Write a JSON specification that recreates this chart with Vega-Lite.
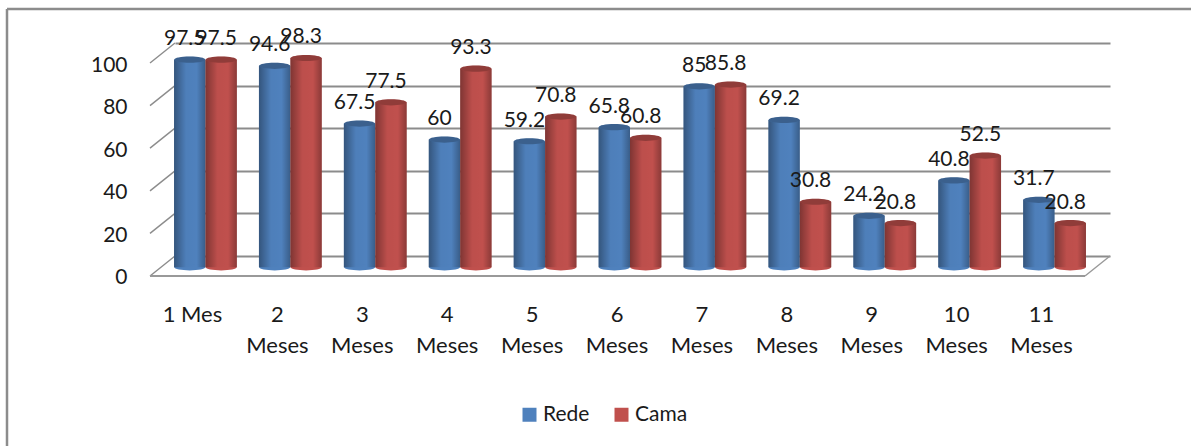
{
"$schema":"https://vega.github.io/schema/vega-lite/v6.json",
"width":935,"height":256,
"autosize":"none",
"padding":{"left":175,"top":20,"right":81,"bottom":170},
"background":"#ffffff",
"config":{"view":{"stroke":null},"font":"Lato"},
"datasets":{
"ticks":[{"tick":0},{"tick":20},{"tick":40},{"tick":60},{"tick":80},{"tick":100}],
"bars":[
{"periodo":"1 Mes","serie":"Rede","valor":97.5},{"periodo":"1 Mes","serie":"Cama","valor":97.5},
{"periodo":"2 Meses","serie":"Rede","valor":94.6},{"periodo":"2 Meses","serie":"Cama","valor":98.3},
{"periodo":"3 Meses","serie":"Rede","valor":67.5},{"periodo":"3 Meses","serie":"Cama","valor":77.5},
{"periodo":"4 Meses","serie":"Rede","valor":60},{"periodo":"4 Meses","serie":"Cama","valor":93.3},
{"periodo":"5 Meses","serie":"Rede","valor":59.2},{"periodo":"5 Meses","serie":"Cama","valor":70.8},
{"periodo":"6 Meses","serie":"Rede","valor":65.8},{"periodo":"6 Meses","serie":"Cama","valor":60.8},
{"periodo":"7 Meses","serie":"Rede","valor":85},{"periodo":"7 Meses","serie":"Cama","valor":85.8},
{"periodo":"8 Meses","serie":"Rede","valor":69.2},{"periodo":"8 Meses","serie":"Cama","valor":30.8},
{"periodo":"9 Meses","serie":"Rede","valor":24.2},{"periodo":"9 Meses","serie":"Cama","valor":20.8},
{"periodo":"10 Meses","serie":"Rede","valor":40.8},{"periodo":"10 Meses","serie":"Cama","valor":52.5},
{"periodo":"11 Meses","serie":"Rede","valor":31.7},{"periodo":"11 Meses","serie":"Cama","valor":20.8}
]},
"layer":[
{"layer":[
 {"data":{"name":"ticks"},
  "transform":[{"calculate":"datum.tick-9.39","as":"front"},{"calculate":"-1","as":"d0"},{"calculate":"0","as":"d1"}],
  "mark":{"type":"rule","color":"#8c8c8c","strokeWidth":1.5},
  "encoding":{
   "x":{"field":"d0","type":"quantitative","scale":{"domain":[0,37.4],"nice":false,"zero":false},"axis":null},
   "x2":{"field":"d1"},
   "y":{"field":"front","type":"quantitative","scale":{"domain":[-9.39,110.8],"nice":false,"zero":false},
    "axis":{"orient":"left","values":[0,20,40,60,80,100],"title":null,"domain":false,"ticks":false,"labelPadding":48,"labelOffset":22,"labelFontSize":21,"labelColor":"#1a1a1a","labelFont":"Lato","grid":true,"gridColor":"#8c8c8c","gridWidth":2}},
   "y2":{"field":"tick"}}},
 {"data":{"values":[{"a":0}]},
  "mark":{"type":"rule","color":"#999999","strokeWidth":2},
  "encoding":{"x":{"datum":-1,"type":"quantitative"},"x2":{"datum":36.4},"y":{"datum":-9.39,"type":"quantitative"}}},
 {"data":{"values":[{"a":0}]},
  "mark":{"type":"rule","color":"#999999","strokeWidth":1.5},
  "encoding":{"x":{"datum":36.4,"type":"quantitative"},"x2":{"datum":37.4},"y":{"datum":-9.39,"type":"quantitative"},"y2":{"datum":0}}},
 {"data":{"values":[{"a":0}]},
  "mark":{"type":"rule","color":"#8c8c8c","strokeWidth":2.5},
  "encoding":{"x":{"datum":-6.72,"type":"quantitative"},"x2":{"datum":40.64},"y":{"datum":115.96,"type":"quantitative"}}},
 {"data":{"values":[{"a":0}]},
  "mark":{"type":"rule","color":"#8c8c8c","strokeWidth":2.5},
  "encoding":{"x":{"datum":-6.72,"type":"quantitative"},"y":{"datum":115.96,"type":"quantitative"},"y2":{"datum":-89.2}}}
]},
{"data":{"name":"bars"},
 "encoding":{
  "x":{"field":"periodo","type":"nominal","sort":null,"scale":{"range":[-12,922],"paddingInner":0.26,"paddingOuter":0.13},
    "axis":{"orient":"bottom","title":null,"domain":false,"ticks":false,"labelAngle":0,"labelAlign":"center","labelBaseline":"top","labelFontSize":22,"labelColor":"#1a1a1a","labelFont":"Lato","labelPadding":28,"labelOffset":-13,"labelLineHeight":31,"labelOverlap":false,"labelExpr":"datum.value=='1 Mes'?datum.value:split(datum.value,' ')"}},
  "xOffset":{"field":"serie","type":"nominal","sort":["Rede","Cama"],"scale":{"paddingInner":0,"paddingOuter":0}},
  "y":{"field":"valor","type":"quantitative","scale":{"domain":[-4.06,116.13],"nice":false,"zero":false},"axis":null}
 },
 "layer":[
  {"mark":{"type":"bar","stroke":null},
   "encoding":{"y2":{"datum":0},
    "color":{"field":"serie","type":"nominal","sort":["Rede","Cama"],"scale":{"domain":["Rede","Cama"],"range":["#4f81bd","#c0504d"]},
     "legend":{"orient":"none","legendX":344,"legendY":384,"direction":"horizontal","title":null,"symbolType":"square","symbolSize":196,"symbolStrokeWidth":0,"labelFontSize":21,"labelColor":"#1a1a1a","labelFont":"Lato","symbolOpacity":1,"columnPadding":21,"labelOffset":3}}}},
  {"mark":{"type":"point","filled":true,"size":961,"opacity":1,"shape":"M-1,0A1,0.2 0 1,0 1,0A1,0.2 0 1,0 -1,0Z"},
   "encoding":{"y":{"datum":0,"type":"quantitative"},
    "color":{"field":"serie","type":"nominal","sort":["Rede","Cama"]}}},
  {"mark":{"type":"bar","stroke":null,"color":{"gradient":"linear","x1":0,"y1":0,"x2":1,"y2":0,"stops":[{"offset":0,"color":"rgba(0,0,0,0.34)"},{"offset":0.38,"color":"rgba(0,0,0,0.02)"},{"offset":0.72,"color":"rgba(0,0,0,0.0)"},{"offset":1,"color":"rgba(0,0,0,0.28)"}]}},
   "encoding":{"y2":{"datum":0}}},
  {"mark":{"type":"point","filled":true,"size":961,"opacity":1,"shape":"M-1,0A1,0.2 0 1,0 1,0A1,0.2 0 1,0 -1,0Z"},
   "encoding":{"color":{"field":"serie","type":"nominal","sort":["Rede","Cama"]}}},
  {"mark":{"type":"point","filled":true,"size":961,"opacity":0.25,"color":"#000000","shape":"M-1,0A1,0.2 0 1,0 1,0A1,0.2 0 1,0 -1,0Z"}},
  {"mark":{"type":"text","fontSize":21,"font":"Lato","color":"#1a1a1a","dx":-5,"dy":-20.5,"baseline":"middle"},
   "encoding":{"text":{"field":"valor","type":"quantitative"}}}
 ]}
],
"resolve":{"scale":{"x":"independent","y":"independent","color":"independent"},"axis":{"x":"independent","y":"independent"}}
}
